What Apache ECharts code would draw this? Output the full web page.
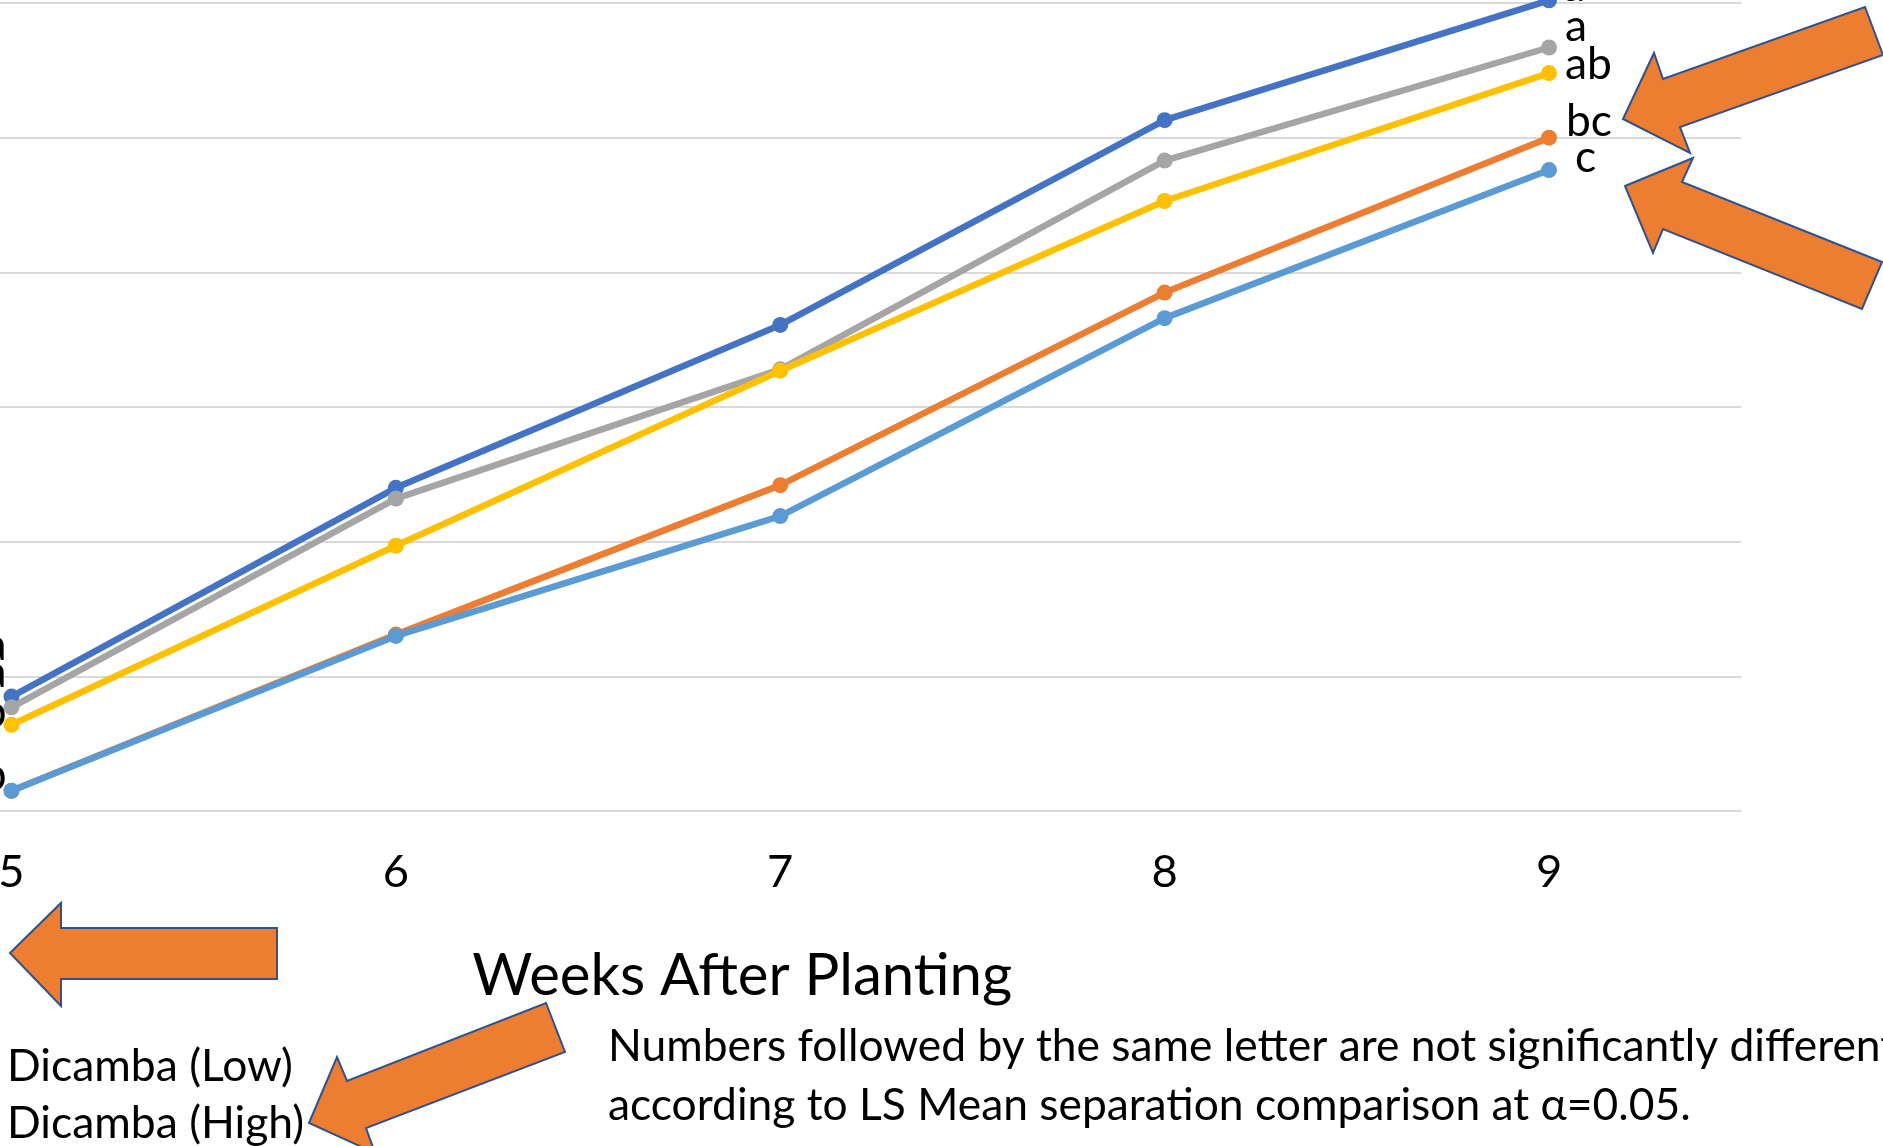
<!DOCTYPE html>
<html>
<head>
<meta charset="utf-8">
<script src="https://cdn.jsdelivr.net/npm/echarts@6/dist/echarts.min.js"></script>
<style>
html,body{margin:0;padding:0;background:#fff;}
#chart{width:1883px;height:1146px;}
</style>
</head>
<body>
<div id="chart"></div>
<script>
// ---------------- data ----------------
const weeks = ['5', '6', '7', '8', '9'];
const seriesNames = ['Series 1', 'Dicamba (Low)', 'Series 3', 'Series 4', 'Dicamba (High)'];
const series1 = [8.5, 24.0, 36.1, 51.3, 60.2];
const dicambaLow = [1.5, 13.1, 24.2, 38.5, 50.0];
const series3 = [7.7, 23.2, 32.8, 48.3, 56.7];
const series4 = [6.4, 19.7, 32.7, 45.3, 54.8];
const dicambaHigh = [1.5, 13.0, 21.9, 36.6, 47.6];
const lettersWeek5 = ['a', '', 'a', 'b', 'b'];
const lettersWeek9 = ['a', 'bc', 'a', 'ab', 'c'];
const legendNames = ['Dicamba (Low)', 'Dicamba (High)'];
const xTitle = 'Weeks After Planting';
const noteLines = [
  'Numbers followed by the same letter are not significantly different',
  'according to LS Mean separation comparison at \u03b1=0.05.'
];

// ---------------- styling ----------------
const FAMILY = 'Lato';
const colors = ['#4472C4', '#ED7D31', '#A5A5A5', '#FFC000', '#5B9BD5'];
const cv = document.createElement('canvas').getContext('2d');
function fitSize(text, width) {
  cv.font = '100px ' + FAMILY;
  return 100 * width / cv.measureText(text).width;
}
const noteSize = fitSize(noteLines[1], 1083);
const k = noteSize / 49;
const titleSize = fitSize(xTitle, 540);
const legendSize = fitSize(legendNames[0], 286);
const tickSize = 50 * k;
const labelSize = 49 * k;
const MID = 0.387; // canvas middle -> baseline ratio

// label placement (relative baseline offsets in px) per series
const week5LabelStyle = [
  {dx: 3, base: -34}, null, {dx: 3, base: -17}, {dx: 3, base: 5}, {dx: 3, base: 2}
];
const week9LabelStyle = [
  {dx: 6, base: 3}, {dx: 9, base: 1}, {dx: 8, base: -4}, {dx: 8, base: 9}, {dx: 18, base: 5}
];

const allValues = [series1, dicambaLow, series3, series4, dicambaHigh];

function buildData(vals, si) {
  return vals.map((v, i) => {
    if (i === 0 && lettersWeek5[si]) {
      const st = week5LabelStyle[si];
      return {value: v, label: {show: true, formatter: lettersWeek5[si], position: 'left', distance: 0,
        offset: [st.dx, st.base - MID * labelSize]}};
    }
    if (i === vals.length - 1 && lettersWeek9[si]) {
      const st = week9LabelStyle[si];
      return {value: v, label: {show: true, formatter: lettersWeek9[si], position: 'right', distance: 0,
        offset: [st.dx, st.base - MID * labelSize]}};
    }
    return v;
  });
}

const seriesList = allValues.map((vals, si) => ({
  name: seriesNames[si],
  type: 'line',
  data: buildData(vals, si),
  symbol: 'circle',
  symbolSize: 16,
  lineStyle: {width: 6.5, color: colors[si]},
  itemStyle: {color: colors[si]},
  label: {color: '#000', fontFamily: FAMILY, fontSize: labelSize},
  emphasis: {disabled: true},
  clip: false,
  z: 2 + si
}));

const arrowStyle = {fill: '#ED7D31', stroke: '#2F528F', lineWidth: 2};
const arrows = [
  [[1623,119],[1654,53],[1663,79],[1865,7],[1883,55],[1680,127],[1690,153]],
  [[1625,186],[1693,158],[1682,182],[1882,262],[1862,309],[1663,229],[1653,253]],
  [[10,953],[61,903],[61,928],[277,928],[277,979],[61,979],[61,1006]],
  [[309,1123],[337,1057],[347,1081],[546,1003],[565,1052],[366,1128],[375,1153]]
];

const legendRowsTop = [1045, 1101.5];
const legends = legendNames.map((nm, i) => ({
  data: [nm],
  orient: 'vertical',
  left: 0,
  top: legendRowsTop[i],
  padding: 0,
  itemWidth: 1,
  itemHeight: 1,
  itemGap: 0,
  selectedMode: false,
  itemStyle: {opacity: 0},
  lineStyle: {opacity: 0},
  textStyle: {color: '#000', fontFamily: FAMILY, fontSize: legendSize, lineHeight: 44}
}));

const chart = echarts.init(document.getElementById('chart'), null, {renderer: 'canvas'});
chart.setOption({
  animation: false,
  backgroundColor: '#fff',
  color: colors,
  grid: {left: -180.7, right: 141.8, top: -131.6, bottom: 335, containLabel: false, outerBoundsMode: 'none'},
  xAxis: {
    type: 'category',
    data: weeks,
    boundaryGap: true,
    axisLine: {show: false},
    axisTick: {show: false},
    axisLabel: {color: '#000', fontFamily: FAMILY, fontSize: tickSize, margin: 61, verticalAlign: 'middle'},
    name: xTitle,
    nameLocation: 'middle',
    nameGap: 165,
    nameTextStyle: {color: '#000', fontFamily: FAMILY, fontSize: titleSize, verticalAlign: 'middle',
      padding: [0, 76, 0, 0]}
  },
  yAxis: {
    type: 'value',
    min: 0,
    max: 70,
    interval: 10,
    axisLine: {show: false},
    axisTick: {show: false},
    axisLabel: {show: false},
    splitLine: {lineStyle: {color: '#D9D9D9', width: 2}}
  },
  legend: legends,
  series: seriesList,
  graphic: arrows.map(pts => ({
    type: 'polygon', z: 100, shape: {points: pts}, style: arrowStyle
  })).concat(noteLines.map((t, i) => ({
    type: 'text', z: 100, x: 608, y: [1047, 1106][i],
    style: {text: t, fill: '#000', font: noteSize.toFixed(2) + 'px ' + FAMILY, verticalAlign: 'middle', align: 'left'}
  })))
});
</script>
</body>
</html>
